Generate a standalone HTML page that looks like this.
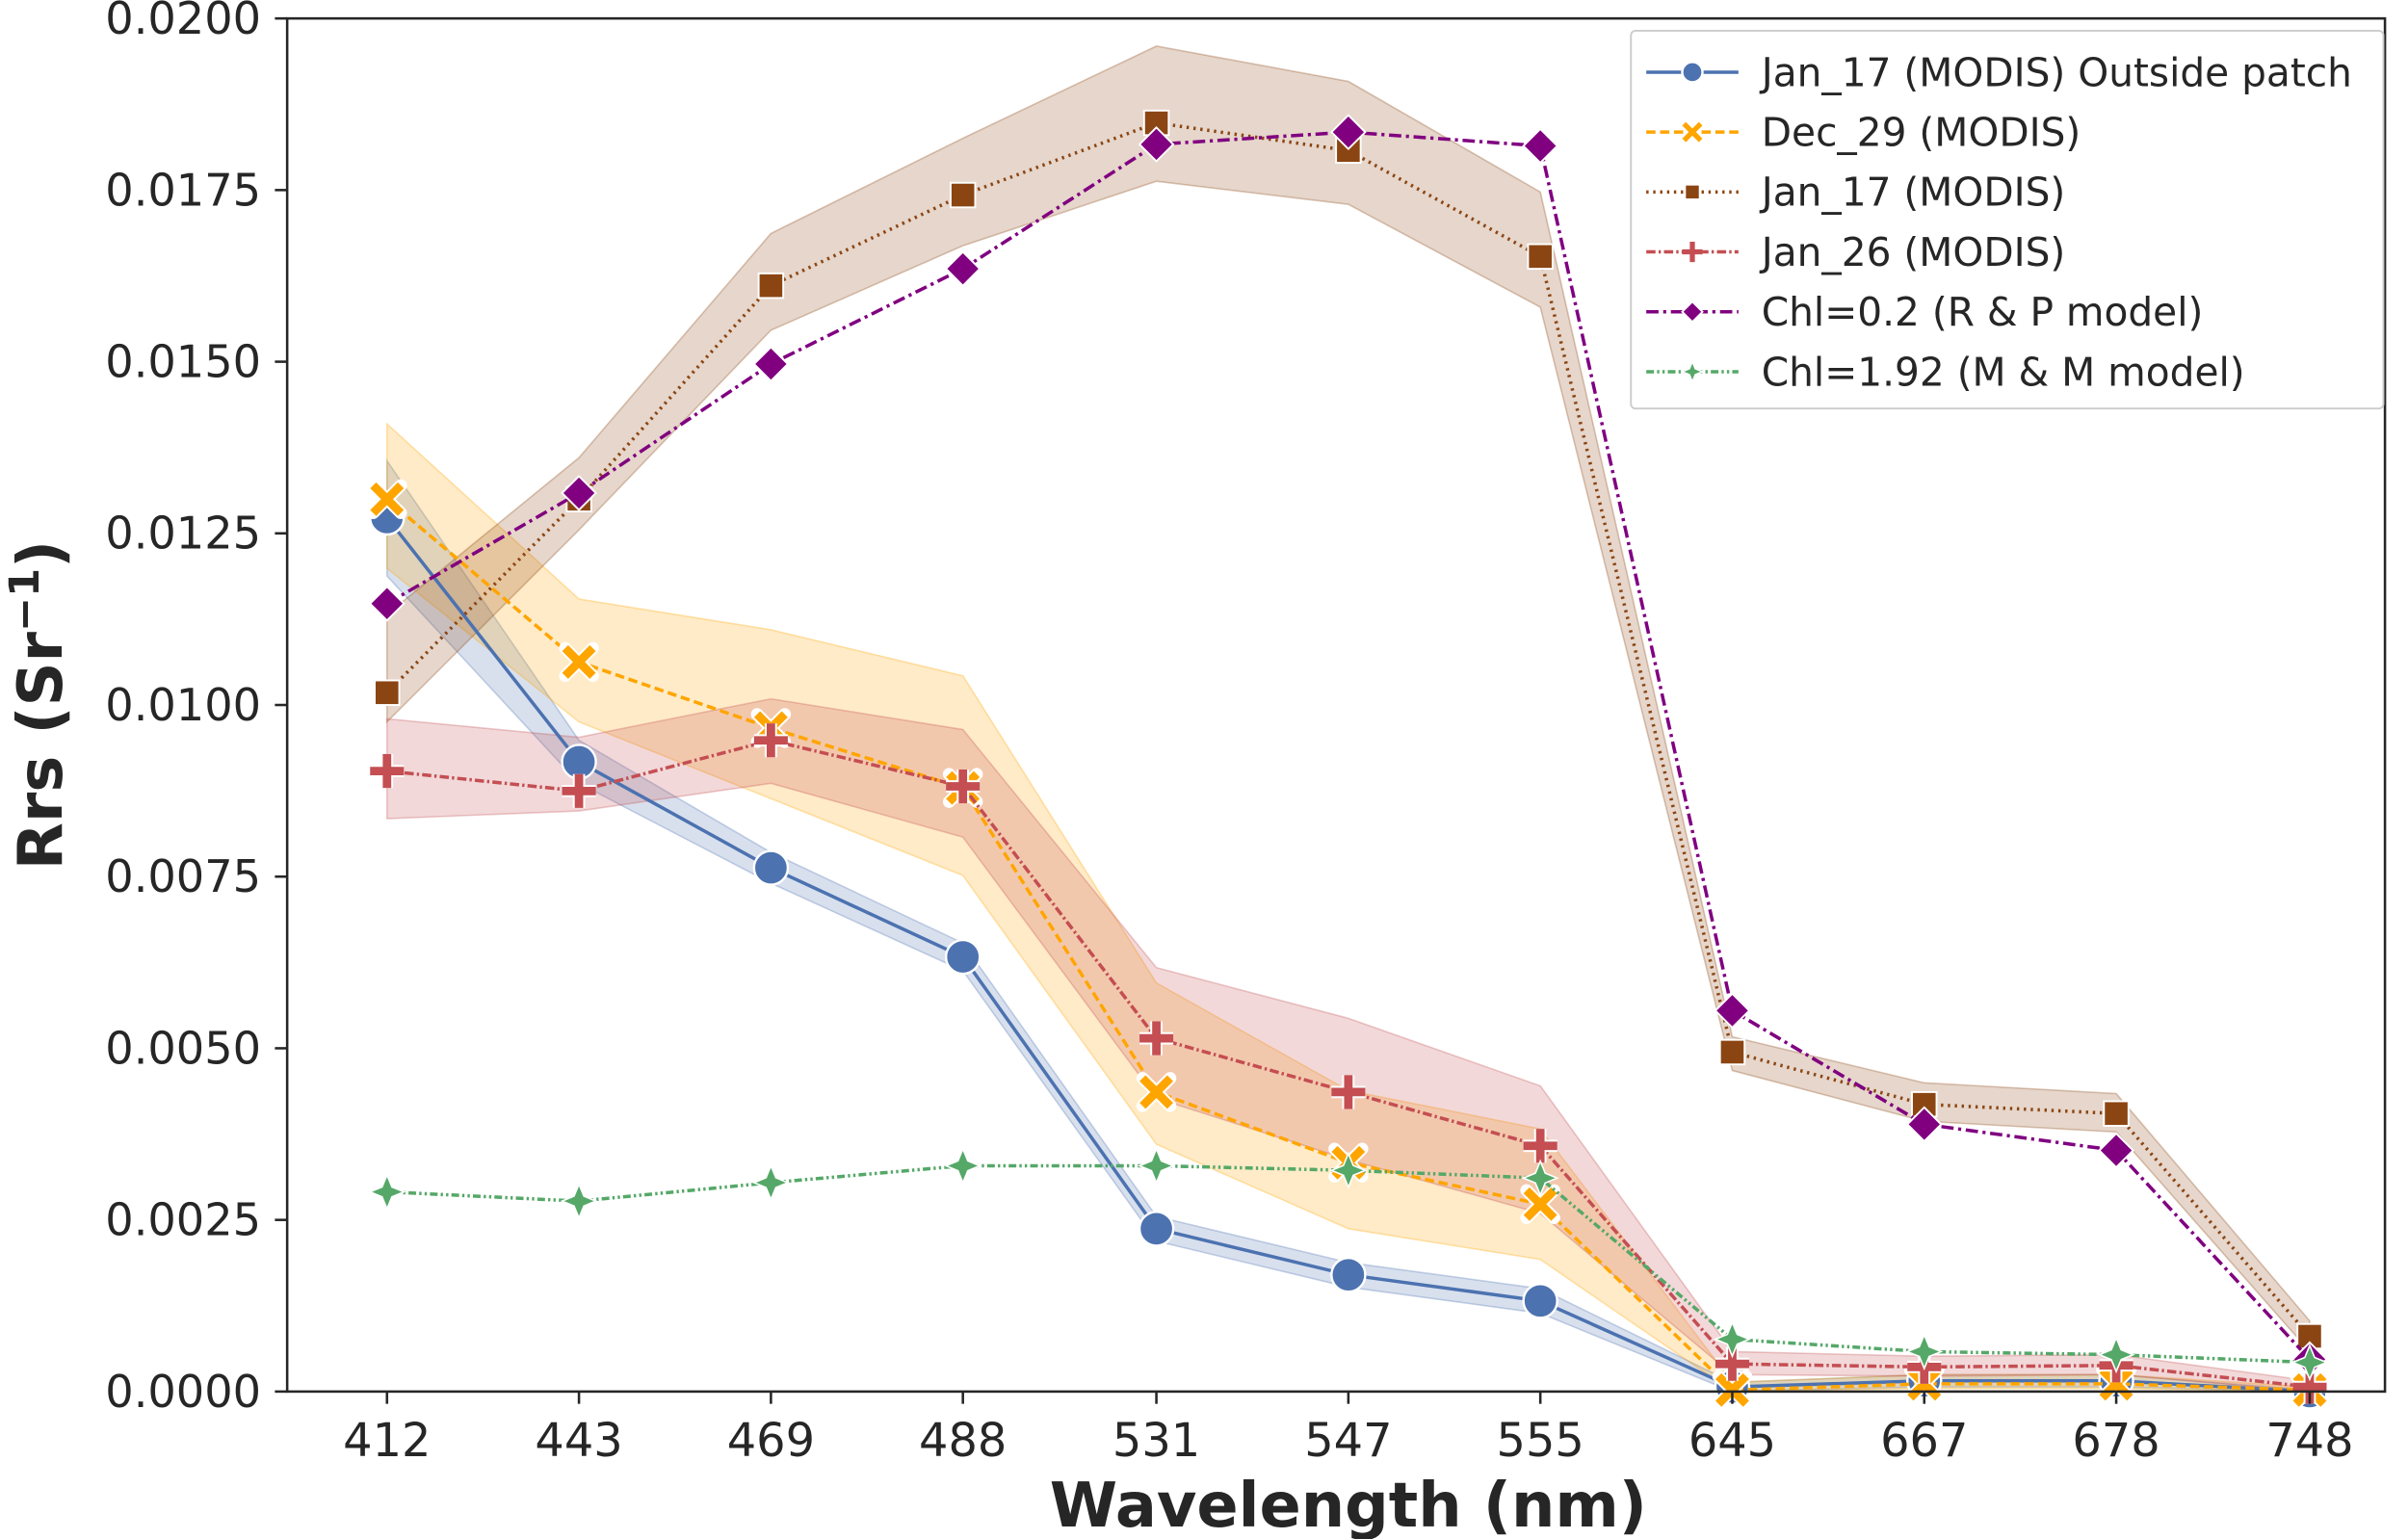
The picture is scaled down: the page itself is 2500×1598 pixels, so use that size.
<!DOCTYPE html>
<html><head><meta charset="utf-8"><style>
html,body{margin:0;padding:0;background:#fff;}
svg{display:block;}
text{font-family:"DejaVu Sans","Liberation Sans",sans-serif;fill:#262626;}
</style></head><body>
<svg id="s" width="2500" height="1598" viewBox="0 0 1568 1002" preserveAspectRatio="none" xmlns="http://www.w3.org/2000/svg">
<rect x="0" y="0" width="1568" height="1002" fill="#fff"/>
<g id="bands"></g>
<g id="lines"></g>
<rect x="187" y="12" width="1366" height="894" fill="none" stroke="#262626" stroke-width="1.6"/>
<g id="ticks"></g>
<text x="878" y="994" font-size="40" font-weight="bold" text-anchor="middle">Wavelength (nm)</text>
<text transform="translate(40,459) rotate(-90)" font-size="40" font-weight="bold" text-anchor="middle">Rrs (Sr<tspan dy="-15" font-size="27">−1</tspan><tspan dy="15">)</tspan></text>
<g id="legend"></g>
</svg>
<script>
const NS="http://www.w3.org/2000/svg";
const X=[252,377,502,627,753,878,1003,1128,1253,1378,1504];
const XL=["412","443","469","488","531","547","555","645","667","678","748"];
function el(p,t,a,txt){const e=document.createElementNS(NS,t);for(const k in a)e.setAttribute(k,a[k]);if(txt!==undefined)e.textContent=txt;document.getElementById(p).appendChild(e);return e;}
const YL=["0.0000","0.0025","0.0050","0.0075","0.0100","0.0125","0.0150","0.0175","0.0200"];
YL.forEach((l,i)=>{const y=906-i*111.75;el("ticks","line",{x1:179,x2:187,y1:y,y2:y,stroke:"#262626","stroke-width":1.6});el("ticks","text",{x:170,y:y+10,"font-size":29,"text-anchor":"end"},l);});
X.forEach((x,i)=>{el("ticks","line",{x1:x,x2:x,y1:906,y2:914,stroke:"#262626","stroke-width":1.6});el("ticks","text",{x:x,y:948,"font-size":30,"text-anchor":"middle"},XL[i]);});
const S=[
{c:"#4c72b0",d:"",m:"o",y:[337,496,565,623,800,830,847,903,899,899,906],lo:[375,510,575,632,808,838,855,906,903,903,906],hi:[300,482,555,614,792,822,839,900,895,895,905]},
{c:"#ffa500",d:"6,3",m:"x",y:[325,431,474,513,711,757,784,905,901,901,905],lo:[370,470,520,570,745,800,820,906,904,904,906],hi:[276,390,410,440,640,710,735,900,895,895,903]},
{c:"#8b4513",d:"1.5,3",m:"s",y:[451,325,186,127,80,98,167,685,719,725,870],lo:[470,345,215,160,118,133,200,697,730,737,880],hi:[400,298,152,90,30,53,125,675,705,712,860]},
{c:"#c44e52",d:"6,2,1.5,2",m:"p",y:[502,515,482,512,676,711,746,888,890,889,903],lo:[533,528,510,545,715,755,790,895,896,895,906],hi:[468,480,455,475,630,663,707,880,883,882,899]},
{c:"#800080",d:"8,3,2,3",m:"d",y:[393,321,237,175,94,86,95,658,732,749,885]},
{c:"#55a868",d:"5,2,1.5,2,1.5,2",m:"*",y:[776,782,770,759,759,762,767,872,880,882,887]}
];
function marker(g,m,x,y,c,sc){sc=sc||1;
 if(m=="o")el(g,"circle",{cx:x,cy:y,r:11*sc,fill:c,stroke:"#fff","stroke-width":1.5});
 else if(m=="x"){const r=9*sc;el(g,"path",{d:`M${x-r} ${y-r}L${x+r} ${y+r}M${x-r} ${y+r}L${x+r} ${y-r}`,stroke:"#fff","stroke-width":8*sc,"stroke-linecap":"round"});el(g,"path",{d:`M${x-r} ${y-r}L${x+r} ${y+r}M${x-r} ${y+r}L${x+r} ${y-r}`,stroke:c,"stroke-width":5.5*sc});}
 else if(m=="s"){const r=8*sc;el(g,"rect",{x:x-r,y:y-r,width:2*r,height:2*r,fill:c,stroke:"#fff","stroke-width":1.2});}
 else if(m=="p"){const r=11*sc;el(g,"path",{d:`M${x-r} ${y}H${x+r}M${x} ${y-r}V${y+r}`,stroke:"#fff","stroke-width":8*sc});el(g,"path",{d:`M${x-r} ${y}H${x+r}M${x} ${y-r}V${y+r}`,stroke:c,"stroke-width":5.5*sc});}
 else if(m=="d"){const r=11*sc;el(g,"path",{d:`M${x} ${y-r}L${x+r} ${y}L${x} ${y+r}L${x-r} ${y}Z`,fill:c,stroke:"#fff","stroke-width":1.2});}
 else {const r=11*sc,k=3.2*sc;el(g,"path",{d:`M${x} ${y-r}L${x+k} ${y-k}L${x+r} ${y}L${x+k} ${y+k}L${x} ${y+r}L${x-k} ${y+k}L${x-r} ${y}L${x-k} ${y-k}Z`,fill:c,stroke:"#fff","stroke-width":1});}
}
S.forEach(s=>{if(s.lo){let p=X.map((x,i)=>`${x},${s.hi[i]}`).join(" ")+" "+X.slice().reverse().map((x,j)=>`${x},${s.lo[10-j]}`).join(" ");el("bands","polygon",{points:p,fill:s.c,"fill-opacity":0.22,stroke:s.c,"stroke-opacity":0.3});}});
S.forEach(s=>{el("lines","polyline",{points:X.map((x,i)=>`${x},${s.y[i]}`).join(" "),fill:"none",stroke:s.c,"stroke-width":2.2,"stroke-dasharray":s.d||"none"});X.forEach((x,i)=>marker("lines",s.m,x,s.y[i],s.c));});
el("legend","rect",{x:1062,y:20,width:490,height:246,fill:"#fff","fill-opacity":0.85,stroke:"#ccc","stroke-width":1.2,rx:3});
const LT=["Jan_17 (MODIS) Outside patch","Dec_29 (MODIS)","Jan_17 (MODIS)","Jan_26 (MODIS)","Chl=0.2 (R & P model)","Chl=1.92 (M & M model)"];
S.forEach((s,i)=>{const y=47+i*39;el("legend","line",{x1:1072,x2:1132,y1:y,y2:y,stroke:s.c,"stroke-width":2.2,"stroke-dasharray":s.d||"none"});marker("legend",s.m,1102,y,s.c,0.6);el("legend","text",{x:1147,y:y+9,"font-size":25.5},LT[i]);});
</script>
</body></html>
